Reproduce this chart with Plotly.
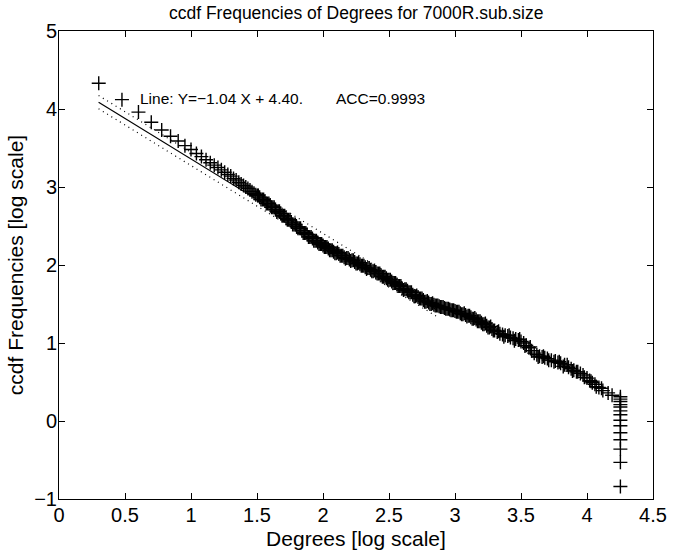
import plotly.graph_objects as go

# log10(degree) vs log10(ccdf frequency)
deg_log = [
    0.301, 0.477, 0.602, 0.699, 0.778, 0.845, 0.903, 0.954, 1.000, 1.041,
    1.079, 1.114, 1.146, 1.176, 1.204, 1.230, 1.255, 1.279, 1.301, 1.322,
    1.342, 1.362, 1.380, 1.398, 1.415, 1.431, 1.447, 1.462, 1.477, 1.491,
    1.505,
    1.52, 1.54, 1.56, 1.58, 1.60, 1.62, 1.64, 1.66, 1.68, 1.70,
    1.72, 1.74, 1.76, 1.78, 1.80, 1.82, 1.84, 1.86, 1.88, 1.90,
    1.92, 1.94, 1.96, 1.98, 2.00, 2.02, 2.04, 2.06, 2.08, 2.10,
    2.12, 2.14, 2.16, 2.18, 2.20, 2.22, 2.24, 2.26, 2.28, 2.30,
    2.32, 2.34, 2.36, 2.38, 2.40, 2.42, 2.44, 2.46, 2.48, 2.50,
    2.52, 2.54, 2.56, 2.58, 2.60, 2.62, 2.64, 2.66, 2.68, 2.70,
    2.72, 2.74, 2.76, 2.78, 2.80, 2.82, 2.84, 2.86, 2.88, 2.90,
    2.92, 2.94, 2.96, 2.98, 3.00, 3.02, 3.04, 3.06, 3.08, 3.10,
    3.12, 3.14, 3.16, 3.18, 3.20, 3.22, 3.24, 3.26, 3.28, 3.30,
    3.32, 3.34, 3.36, 3.38, 3.40, 3.42, 3.44, 3.46, 3.48, 3.50,
    3.52, 3.54, 3.56, 3.58, 3.60, 3.62, 3.64, 3.66, 3.68, 3.70,
    3.73, 3.76, 3.78, 3.80, 3.83, 3.86, 3.88, 3.90, 3.92, 3.95,
    3.97, 4.00, 4.02, 4.04, 4.06, 4.09, 4.11, 4.16, 4.19,
    4.253, 4.253, 4.253, 4.253, 4.253, 4.253, 4.253, 4.253, 4.253, 4.253,
    4.253, 4.253, 4.253, 4.253,
]
ccdf_log = [
    4.33, 4.12, 3.96, 3.83, 3.73, 3.65, 3.59, 3.53, 3.48, 3.43,
    3.39, 3.35, 3.31, 3.28, 3.25, 3.22, 3.19, 3.16, 3.14, 3.11,
    3.09, 3.06, 3.04, 3.02, 3.00, 2.98, 2.96, 2.94, 2.92, 2.90,
    2.89,
    2.87, 2.84, 2.82, 2.79, 2.77, 2.74, 2.71, 2.69, 2.66, 2.63,
    2.60, 2.58, 2.55, 2.52, 2.49, 2.47, 2.44, 2.41, 2.39, 2.36,
    2.34, 2.31, 2.29, 2.27, 2.25, 2.23, 2.21, 2.19, 2.17, 2.15,
    2.14, 2.12, 2.10, 2.09, 2.07, 2.06, 2.04, 2.02, 2.01, 1.99,
    1.97, 1.96, 1.94, 1.92, 1.91, 1.89, 1.87, 1.85, 1.83, 1.81,
    1.79, 1.77, 1.75, 1.73, 1.70, 1.69, 1.67, 1.65, 1.62, 1.60,
    1.59, 1.57, 1.55, 1.53, 1.52, 1.50, 1.49, 1.48, 1.47, 1.46,
    1.45, 1.44, 1.43, 1.42, 1.41, 1.40, 1.38, 1.37, 1.36, 1.35,
    1.33, 1.31, 1.30, 1.28, 1.26, 1.24, 1.22, 1.20, 1.18, 1.16,
    1.14, 1.12, 1.11, 1.10, 1.09, 1.07, 1.06, 1.05, 1.04, 1.02,
    1.00, 0.97, 0.94, 0.90, 0.87, 0.85, 0.83, 0.82, 0.81, 0.80,
    0.78, 0.77, 0.75, 0.74, 0.72, 0.69, 0.67, 0.65, 0.63, 0.61,
    0.59, 0.55, 0.52, 0.49, 0.47, 0.43, 0.42, 0.36, 0.33,
    0.31, 0.28, 0.25, 0.21, 0.18, 0.13, 0.08, 0.01, -0.06, -0.15,
    -0.24, -0.36, -0.53, -0.84,
]

# the in-between degrees that make the dense middle band
deg_log_mid = [
    1.51, 1.53, 1.55, 1.57, 1.59, 1.61, 1.63, 1.65, 1.67, 1.69,
    1.71, 1.73, 1.75, 1.77, 1.79, 1.81, 1.83, 1.85, 1.87, 1.89,
    1.91, 1.93, 1.95, 1.97, 1.99, 2.01, 2.03, 2.05, 2.07, 2.09,
    2.11, 2.13, 2.15, 2.17, 2.19, 2.21, 2.23, 2.25, 2.27, 2.29,
    2.31, 2.33, 2.35, 2.37, 2.39, 2.41, 2.43, 2.45, 2.47, 2.49,
    2.51, 2.53, 2.55, 2.57, 2.59, 2.61, 2.63, 2.65, 2.67, 2.69,
    2.71, 2.73, 2.75, 2.77, 2.79, 2.81, 2.83, 2.85, 2.87, 2.89,
    2.91, 2.93, 2.95, 2.97, 2.99, 3.01, 3.03, 3.05, 3.07, 3.09,
    3.11, 3.13, 3.15, 3.17, 3.19, 3.21, 3.23, 3.25, 3.27, 3.29,
    3.33, 3.37, 3.41, 3.45, 3.49, 3.53, 3.57, 3.63, 3.67, 3.71,
    3.75, 3.79, 3.82, 3.85, 3.89, 3.93, 3.98, 4.03, 4.07, 4.12,
]
ccdf_log_mid = [
    2.89, 2.84, 2.84, 2.79, 2.79, 2.74, 2.74, 2.68, 2.69, 2.63,
    2.63, 2.58, 2.58, 2.52, 2.52, 2.47, 2.47, 2.41, 2.41, 2.36,
    2.36, 2.31, 2.31, 2.27, 2.27, 2.23, 2.23, 2.19, 2.19, 2.15,
    2.16, 2.12, 2.12, 2.08, 2.09, 2.05, 2.06, 2.02, 2.03, 1.99,
    1.99, 1.95, 1.96, 1.92, 1.93, 1.89, 1.89, 1.85, 1.85, 1.81,
    1.81, 1.77, 1.77, 1.73, 1.73, 1.68, 1.69, 1.65, 1.65, 1.60,
    1.61, 1.57, 1.57, 1.53, 1.54, 1.50, 1.51, 1.48, 1.48, 1.46,
    1.46, 1.44, 1.44, 1.42, 1.42, 1.40, 1.40, 1.37, 1.38, 1.34,
    1.35, 1.31, 1.32, 1.28, 1.28, 1.24, 1.25, 1.20, 1.21, 1.16,
    1.15, 1.08, 1.10, 1.03, 1.05, 0.96, 0.95, 0.82, 0.83, 0.78,
    0.76, 0.76, 0.70, 0.72, 0.64, 0.63, 0.56, 0.51, 0.44, 0.39,
]

# fitted line Y = -1.04 X + 4.40 and its band
fit_x = [0.30, 2.86]
fit_y = [4.088, 1.426]
band_up = [4.173, 1.511]
band_lo = [4.003, 1.341]

FONT = "Liberation Sans, Arial, Helvetica, sans-serif"

fig = go.Figure()

fig.add_trace(go.Scatter(x=deg_log + deg_log_mid, y=ccdf_log + ccdf_log_mid,
                         mode="markers",
                         marker=dict(symbol="cross-thin", size=10,
                                     line=dict(color="black", width=1.4))))
fig.add_trace(go.Scatter(x=fit_x, y=fit_y, mode="lines",
                         line=dict(color="black", width=1.2)))
fig.add_trace(go.Scatter(x=fit_x, y=band_up, mode="lines",
                         line=dict(color="black", width=1.2, dash="1px,4px")))
fig.add_trace(go.Scatter(x=fit_x, y=band_lo, mode="lines",
                         line=dict(color="black", width=1.2, dash="1px,4px")))

fig.add_annotation(x=0.60, y=4.14, xanchor="left", yanchor="middle",
                   text="Line: Y=\u22121.04 X + 4.40.", showarrow=False,
                   font=dict(size=15.5, color="black", family=FONT))
fig.add_annotation(x=2.08, y=4.14, xanchor="left", yanchor="middle",
                   text="ACC=0.9993", showarrow=False,
                   font=dict(size=15.5, color="black", family=FONT))

axis_style = dict(showgrid=False, zeroline=False, showline=True,
                  linecolor="black", linewidth=1, mirror="ticks",
                  ticks="inside", ticklen=6, tickcolor="black",
                  automargin=False,
                  tickfont=dict(size=20, color="black", family=FONT))

fig.update_layout(
    width=685, height=555,
    margin=dict(l=59, r=32, t=31, b=56),
    paper_bgcolor="white", plot_bgcolor="white",
    showlegend=False,
    title=dict(text="ccdf Frequencies of Degrees for 7000R.sub.size",
               x=0.52, xanchor="center", y=1 - 13 / 555, yanchor="middle",
               font=dict(size=17.5, color="black", family=FONT)),
    xaxis=dict(range=[0, 4.5], dtick=0.5, tick0=0, ticklabelstandoff=-2,
               title=dict(text="Degrees [log scale]", standoff=6,
                          font=dict(size=21, color="black", family=FONT)),
               **axis_style),
    yaxis=dict(range=[-1, 5], dtick=1, tick0=0, ticklabelstandoff=-3,
               title=dict(text="ccdf Frequencies [log scale]", standoff=4,
                          font=dict(size=21, color="black", family=FONT)),
               **axis_style),
)

# drop the browser's default body margin so the figure sits at the page corner
fig.write_html("out.html", config={"displayModeBar": False},
               post_script="document.body.style.margin='0';")
